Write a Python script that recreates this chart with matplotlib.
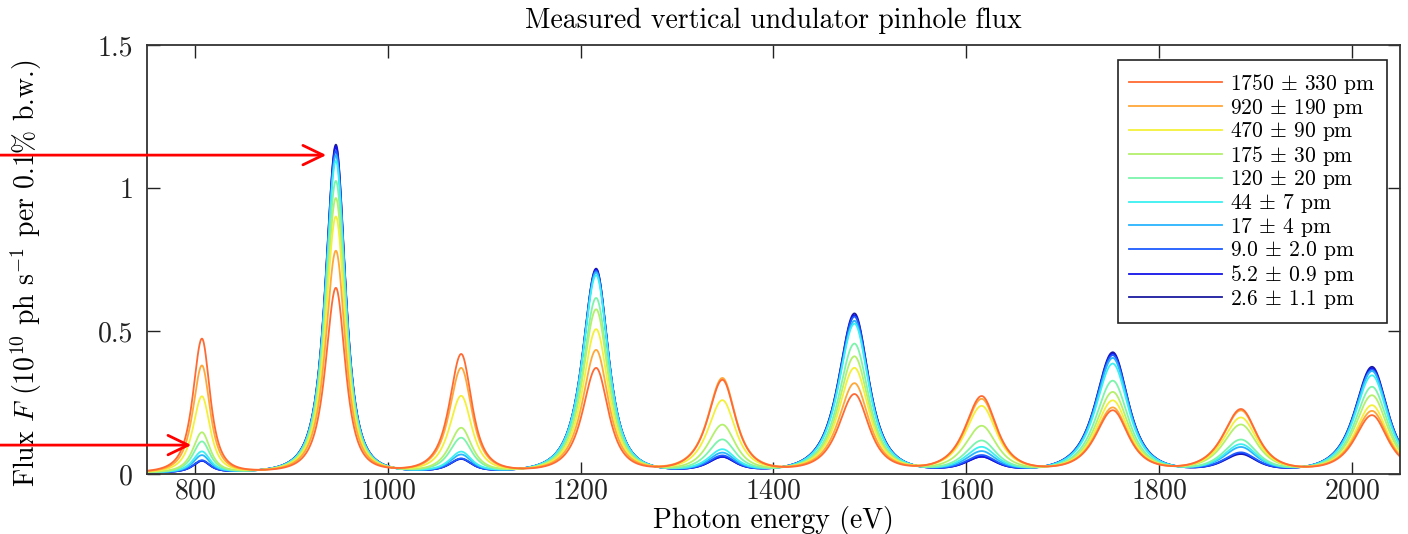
import numpy as np
import matplotlib
matplotlib.use("Agg")
import matplotlib.pyplot as plt
from matplotlib.lines import Line2D

plt.rcParams['font.family'] = 'cmr10'
plt.rcParams['mathtext.fontset'] = 'cm'
plt.rcParams['axes.unicode_minus'] = False
plt.rcParams['axes.formatter.use_mathtext'] = True

# --- data ---
# source size labels (legend order, largest first)
sizes = [r"1750 $\pm$ 330 pm", r"920 $\pm$ 190 pm", r"470 $\pm$ 90 pm",
         r"175 $\pm$ 30 pm", r"120 $\pm$ 20 pm", r"44 $\pm$ 7 pm",
         r"17 $\pm$ 4 pm", r"9.0 $\pm$ 2.0 pm", r"5.2 $\pm$ 0.9 pm",
         r"2.6 $\pm$ 1.1 pm"]
colors = ["#ff6a33", "#ffa83a", "#f4f03a", "#b4f06c", "#7cf4ac",
          "#3cf0f0", "#2ab4ff", "#1f5cff", "#1414e8", "#1a1aa0"]

# harmonic peak energies (eV) and widths (eV)
peak_energy = [807, 946, 1076, 1216, 1347, 1484, 1616, 1752, 1885, 2021]
peak_width = [13, 15, 17, 19.5, 21, 23, 24, 25, 26, 25]

# peak flux per harmonic (1e10 ph/s/0.1%bw), one list per source size
flux_1750 = [0.468, 0.645, 0.413, 0.364, 0.322, 0.272, 0.265, 0.215, 0.220, 0.200]
flux_920 = [0.374, 0.775, 0.364, 0.427, 0.328, 0.310, 0.255, 0.225, 0.215, 0.215]
flux_470 = [0.266, 0.895, 0.266, 0.500, 0.250, 0.364, 0.230, 0.250, 0.190, 0.235]
flux_175 = [0.140, 0.960, 0.154, 0.570, 0.164, 0.405, 0.160, 0.280, 0.165, 0.270]
flux_120 = [0.108, 1.020, 0.119, 0.610, 0.112, 0.450, 0.108, 0.320, 0.112, 0.300]
flux_44 = [0.073, 1.090, 0.070, 0.690, 0.077, 0.520, 0.085, 0.380, 0.095, 0.340]
flux_17 = [0.060, 1.110, 0.060, 0.700, 0.065, 0.530, 0.070, 0.400, 0.085, 0.355]
flux_9 = [0.042, 1.125, 0.046, 0.705, 0.055, 0.545, 0.056, 0.410, 0.066, 0.360]
flux_5 = [0.040, 1.140, 0.045, 0.710, 0.050, 0.550, 0.050, 0.415, 0.063, 0.365]
flux_2 = [0.040, 1.147, 0.044, 0.713, 0.050, 0.556, 0.050, 0.420, 0.060, 0.370]
all_flux = [flux_1750, flux_920, flux_470, flux_175, flux_120,
            flux_44, flux_17, flux_9, flux_5, flux_2]

baseline = 0.004
x_ticks = [800, 1000, 1200, 1400, 1600, 1800, 2000]
y_ticks = [0, 0.5, 1, 1.5]
y_tick_labels = ["0", "0.5", "1", "1.5"]


def spectrum(energy, heights):
    # harmonic line shapes, a bit wider on the low-energy side
    total = np.full_like(energy, baseline)
    for c, h, w in zip(peak_energy, heights, peak_width):
        ww = np.where(energy < c, 1.1 * w, w)
        total += h / (1 + ((energy - c) / ww) ** 2) ** 1.5
    return total


energy = np.arange(750, 2050.5, 0.5)

fig = plt.figure(figsize=(14.08, 5.34), dpi=100)
ax = fig.add_axes([0.1044, 0.1124, 0.8899, 0.8033])

# smallest source first so the large-source curves end up on top
for i in reversed(range(len(sizes))):
    ax.plot(energy, spectrum(energy, all_flux[i]), color=colors[i], lw=1.3)
handles = [Line2D([], [], color=colors[i], lw=1.3, label=sizes[i])
           for i in range(len(sizes))]

ax.set_xlim(750, 2050)
ax.set_ylim(0, 1.5)
ax.set_xticks(x_ticks)
ax.set_yticks(y_ticks)
ax.set_yticklabels(y_tick_labels)
ax.tick_params(direction='in', length=9, width=1, top=True, right=True,
               labelsize=20, colors='#222222')
ax.tick_params(axis='y', pad=10)
ax.tick_params(axis='x', pad=3)
for s in ax.spines.values():
    s.set_linewidth(1.3)
    s.set_color('#333333')

ax.set_title("Measured vertical undulator pinhole flux", fontsize=20, pad=12)
ax.set_xlabel("Photon energy (eV)", fontsize=20, labelpad=1)
ax.set_ylabel(r"Flux $F$ $(10^{10}$ ph s$^{-1}$ per 0.1% b.w.)", fontsize=20)
ax.yaxis.set_label_coords(-0.082, 0.468)

leg = ax.legend(handles=handles, loc='upper right', bbox_to_anchor=(0.9896, 0.965),
                borderaxespad=0, fontsize=15.5, handlelength=4.3, handletextpad=0.37,
                labelspacing=0.03, borderpad=0.55, fancybox=False, framealpha=1,
                edgecolor='#222222')
leg.get_frame().set_linewidth(1.2)

# red arrows pointing at the peaks, starting at the left figure edge
for tip_x, tip_y in [(936, 1.115), (796, 0.101)]:
    ax.annotate("", xy=(tip_x, tip_y), xytext=(0, tip_y),
                xycoords='data', textcoords=('figure fraction', 'data'),
                arrowprops=dict(arrowstyle='->,head_length=1.45,head_width=0.7',
                                color='red', lw=2, shrinkA=0, shrinkB=0),
                annotation_clip=False, zorder=10)

fig.savefig("out.png", dpi=100)
